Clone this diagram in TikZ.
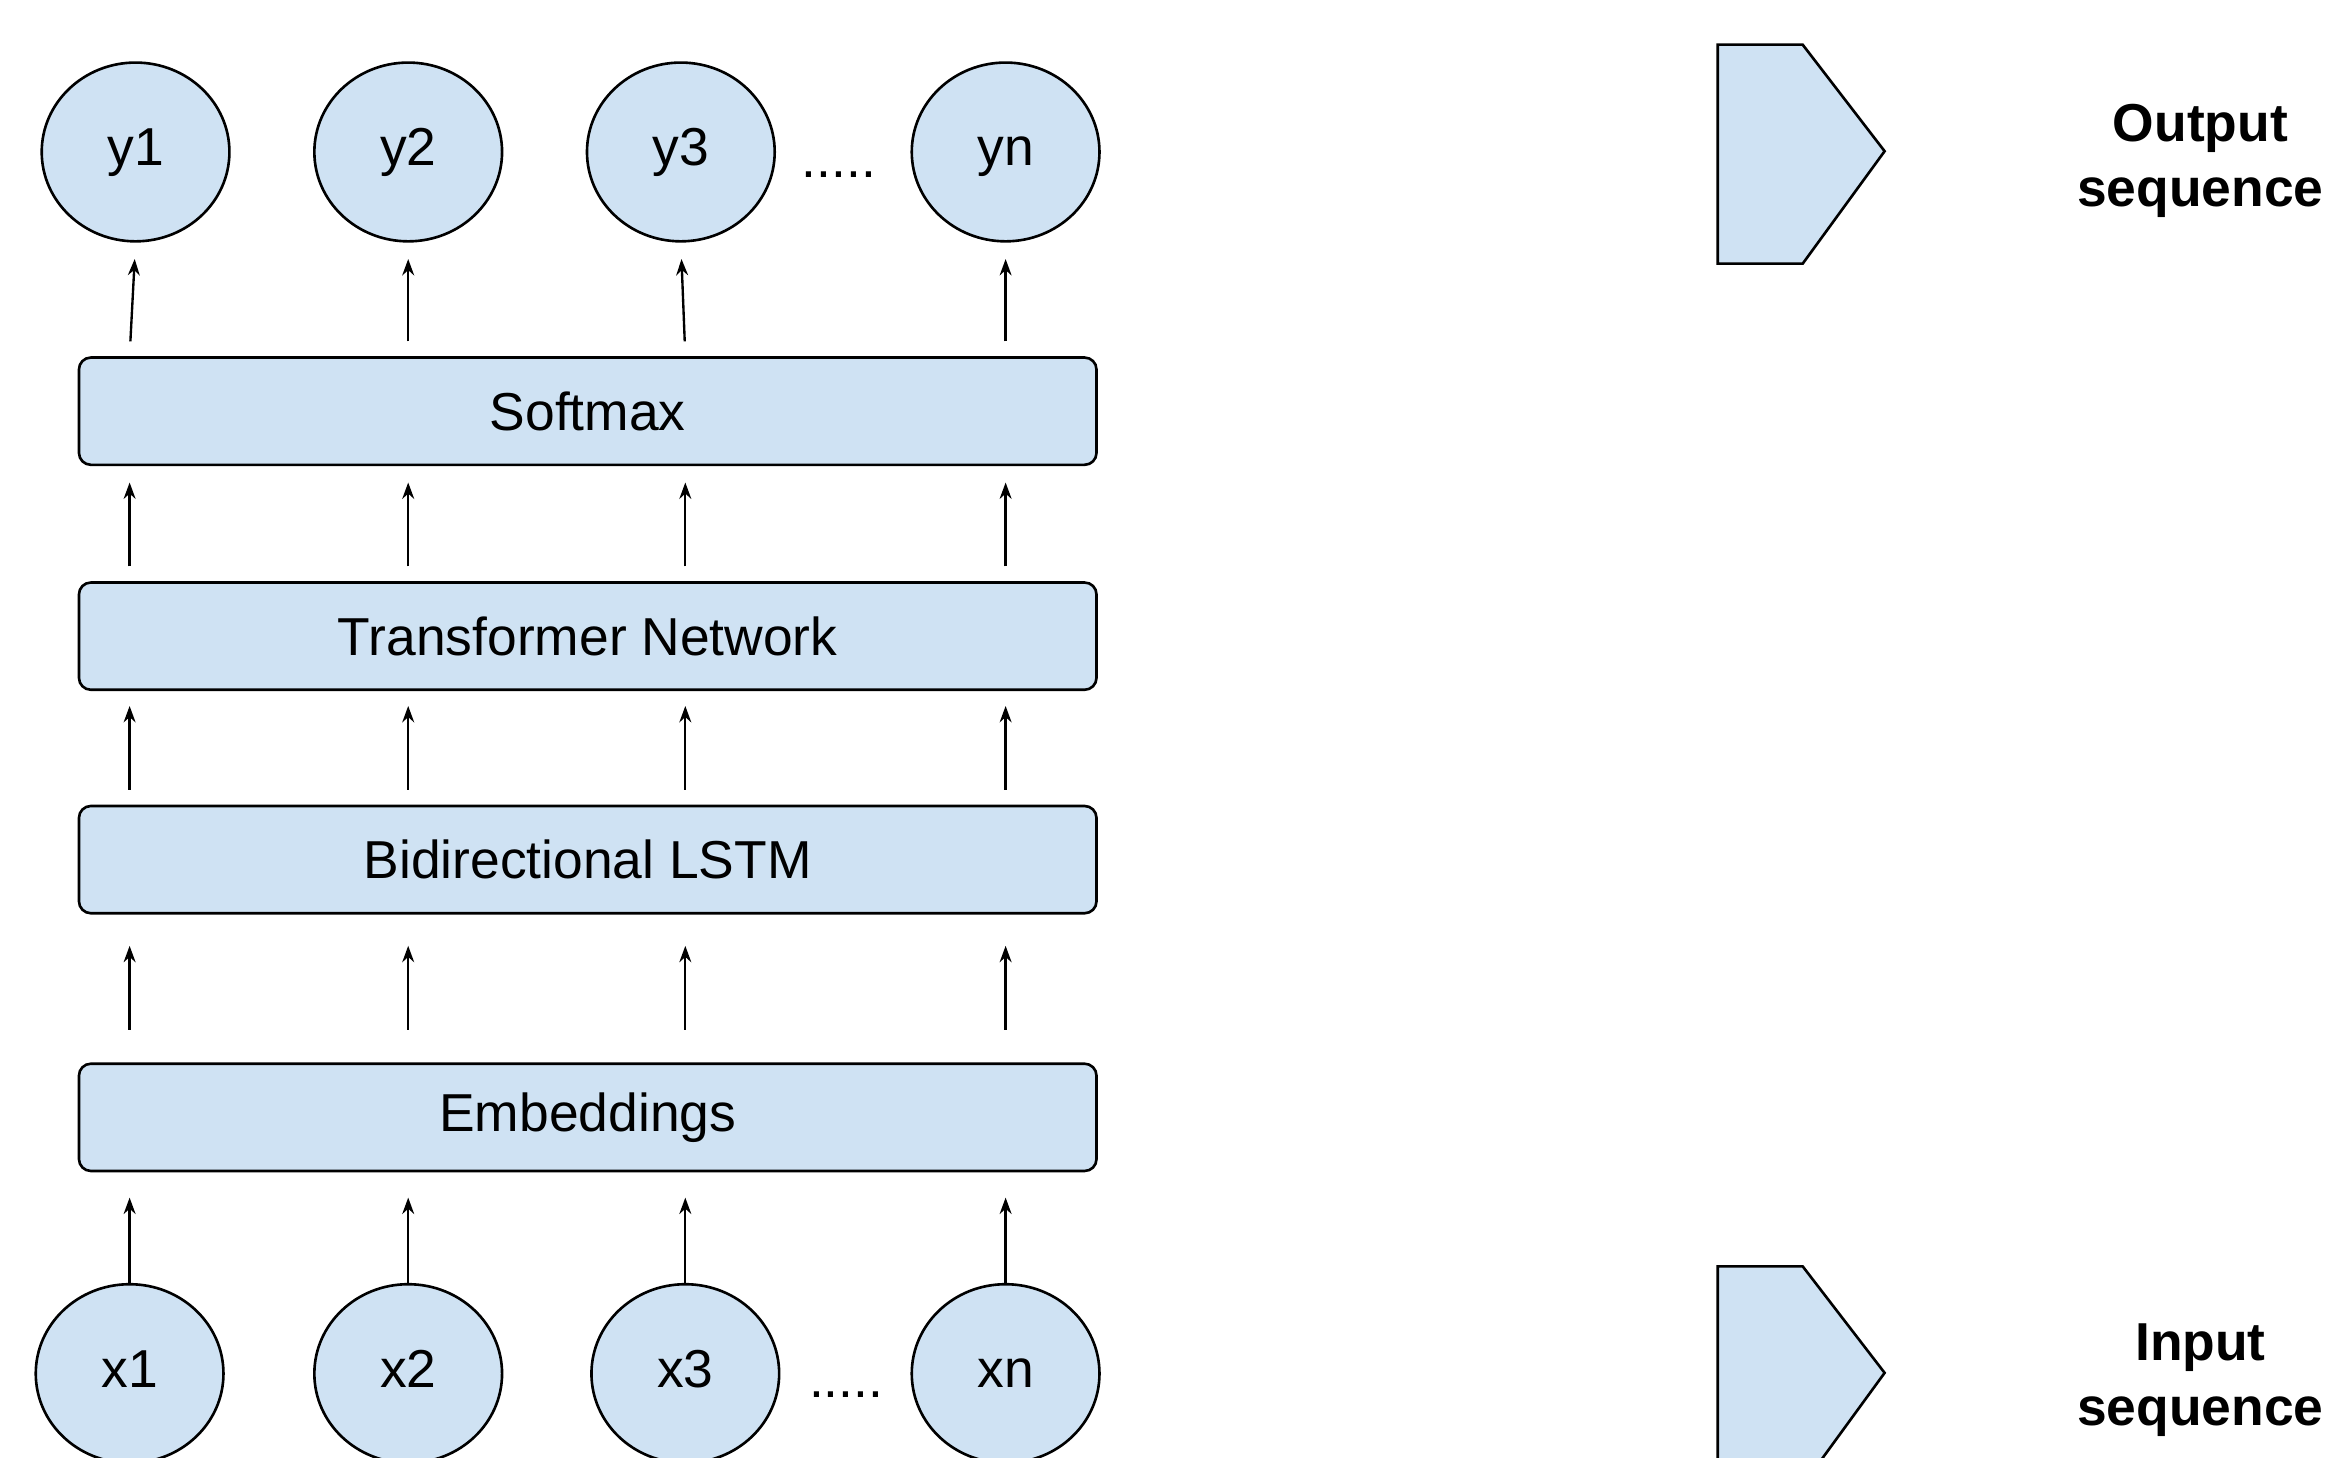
\documentclass[tikz,border=0pt]{standalone}
\usepackage{fontspec}
\setmainfont{Liberation Sans}
\usepackage{xcolor}
\usetikzlibrary{
    arrows.meta,
    shapes,
    positioning,
    calc
}
\definecolor{layerblue}{HTML}{CFE2F3}

\begin{document}
\begin{tikzpicture}[>={Stealth[length=1.1mm,width=0.8mm]}, font=\fontsize{10.2}{12.4}\selectfont,
    layer-node/.style={rectangle, draw=black, line width=0.5pt, fill=layerblue, rounded corners=0.8mm,
        minimum width=6.83cm, minimum height=0.72cm, text centered},
    token-node/.style={ellipse, draw=black, line width=0.5pt, fill=layerblue,
        minimum width=1.26cm, minimum height=1.2cm, inner sep=0pt, text height=7.4pt, text depth=2.2pt},
    flow/.style={->, line width=0.45pt}]
    \useasboundingbox (0,0) rectangle (15.68,9.78);
    % output tokens
    \node [token-node] (y1) at (0.91,8.76) {y1};
    \node [token-node] (y2) at (2.74,8.76) {y2};
    \node [token-node] (y3) at (4.57,8.76) {y3};
    \node [token-node] (yn) at (6.75,8.76) {yn};
    \node (ydots) at (5.63,8.61) {.....};
    % layers
    \node [layer-node] (softmax) at (3.945,7.02) {Softmax};
    \node [layer-node] (trans) at (3.945,5.51) {Transformer Network};
    \node [layer-node] (lstm) at (3.945,4.01) {Bidirectional LSTM};
    \node [layer-node] (emb) at (3.945,2.28) {Embeddings};
    % input tokens
    \node [token-node] (x1) at (0.87,0.56) {x1};
    \node [token-node] (x2) at (2.74,0.56) {x2};
    \node [token-node] (x3) at (4.60,0.56) {x3};
    \node [token-node] (xn) at (6.75,0.56) {xn};
    \node (xdots) at (5.68,0.42) {.....};
    % input -> embeddings
    \draw [flow, shorten >=1.7mm] (x1.north) -- (emb.south -| x1.north);
    \draw [flow, shorten >=1.7mm] (x2.north) -- (emb.south -| x2.north);
    \draw [flow, shorten >=1.7mm] (x3.north) -- (emb.south -| x3.north);
    \draw [flow, shorten >=1.7mm] (xn.north) -- (emb.south -| xn.north);
    % embeddings -> lstm
    \draw [flow, shorten <=2.2mm, shorten >=2.1mm] (emb.north -| x1) -- (lstm.south -| x1);
    \draw [flow, shorten <=2.2mm, shorten >=2.1mm] (emb.north -| x2) -- (lstm.south -| x2);
    \draw [flow, shorten <=2.2mm, shorten >=2.1mm] (emb.north -| x3) -- (lstm.south -| x3);
    \draw [flow, shorten <=2.2mm, shorten >=2.1mm] (emb.north -| xn) -- (lstm.south -| xn);
    % lstm -> transformer
    \draw [flow, shorten <=1mm, shorten >=1mm] (lstm.north -| x1) -- (trans.south -| x1);
    \draw [flow, shorten <=1mm, shorten >=1mm] (lstm.north -| x2) -- (trans.south -| x2);
    \draw [flow, shorten <=1mm, shorten >=1mm] (lstm.north -| x3) -- (trans.south -| x3);
    \draw [flow, shorten <=1mm, shorten >=1mm] (lstm.north -| xn) -- (trans.south -| xn);
    % transformer -> softmax
    \draw [flow, shorten <=1mm, shorten >=1.1mm] (trans.north -| x1) -- (softmax.south -| x1);
    \draw [flow, shorten <=1mm, shorten >=1.1mm] (trans.north -| x2) -- (softmax.south -| x2);
    \draw [flow, shorten <=1mm, shorten >=1.1mm] (trans.north -| x3) -- (softmax.south -| x3);
    \draw [flow, shorten <=1mm, shorten >=1.1mm] (trans.north -| xn) -- (softmax.south -| xn);
    % softmax -> outputs
    \draw [flow, shorten <=1mm, shorten >=1.1mm] (softmax.north -| x1) -- (y1.south);
    \draw [flow, shorten <=1mm, shorten >=1.1mm] (softmax.north -| y2) -- (y2.south);
    \draw [flow, shorten <=1mm, shorten >=1.1mm] (softmax.north -| x3) -- (y3.south);
    \draw [flow, shorten <=1mm, shorten >=1.1mm] (softmax.north -| yn) -- (yn.south);
    % legend
    \draw [draw=black, line width=0.5pt, fill=layerblue] (11.53,9.48) -- (12.10,9.48) -- (12.65,8.765) -- (12.10,8.01) -- (11.53,8.01) -- cycle;
    \draw [draw=black, line width=0.5pt, fill=layerblue] (11.53,1.28) -- (12.10,1.28) -- (12.65,0.565) -- (12.10,-0.19) -- (11.53,-0.19) -- cycle;
    \node [font=\fontsize{10.2}{12.4}\selectfont\bfseries, align=center] (outlabel) at (14.77,8.70) {Output\\ sequence};
    \node [font=\fontsize{10.2}{12.4}\selectfont\bfseries, align=center] (inlabel) at (14.77,0.515) {Input\\ sequence};
\end{tikzpicture}
\end{document}
